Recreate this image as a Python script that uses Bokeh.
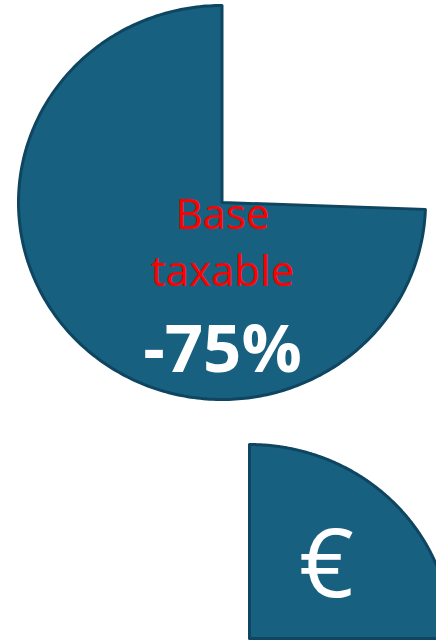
import numpy as np
from bokeh.plotting import figure
from bokeh.models import ColumnDataSource, Range1d
from bokeh.core.properties import value
from bokeh.embed import file_html
from bokeh.resources import INLINE

# ---- data ----
slice_names = ["Base taxable", "€"]
start_deg = [90, 0]        # wedge start angle (degrees, counter-clockwise)
end_deg = [358, 90]        # wedge end angle
label_lines = ["Base", "taxable"]
pct_label = "-75%"
euro_label = "€"

W, H = 436, 640
FILL = "#18607f"
EDGE = "#0e4560"

# layout (pixel -> data, y up)
centers = [(221.5, H - 202), (249, H - 638)]
radii = [(203.5, 197), (202, 194)]

xs, ys = [], []
for (cx, cy), (rx, ry), a0, a1 in zip(centers, radii, start_deg, end_deg):
    t = np.radians(np.linspace(a0, a1, 300))
    xs.append([cx] + list(cx + rx * np.cos(t)) + [cx])
    ys.append([cy] + list(cy + ry * np.sin(t)) + [cy])

src = ColumnDataSource(dict(xs=xs, ys=ys, name=slice_names))

p = figure(width=W, height=H, x_range=Range1d(0, W), y_range=Range1d(0, H),
           output_backend="svg", toolbar_location=None, min_border=0)
p.axis.visible = False
p.grid.visible = False
p.outline_line_color = None
p.background_fill_color = "white"
p.border_fill_color = "white"

p.patches("xs", "ys", source=src, fill_color=FILL, line_color=EDGE,
          line_width=3, line_join="round")

FONT = value("Open Sans")
p.text(x=[222, 222], y=[H - 212, H - 269], text=label_lines,
       text_color="red", text_font=FONT, text_font_size="42px",
       text_align="center", text_baseline="middle")
p.text(x=[222], y=[H - 345], text=[pct_label], text_color="white",
       text_font=FONT, text_font_size="67px", text_font_style="bold",
       text_align="center", text_baseline="middle")
p.text(x=[326], y=[H - 559], text=[euro_label], text_color="white",
       text_font=FONT, text_font_size="96px",
       text_align="center", text_baseline="middle")

open("out.html", "w").write(file_html(p, INLINE))
